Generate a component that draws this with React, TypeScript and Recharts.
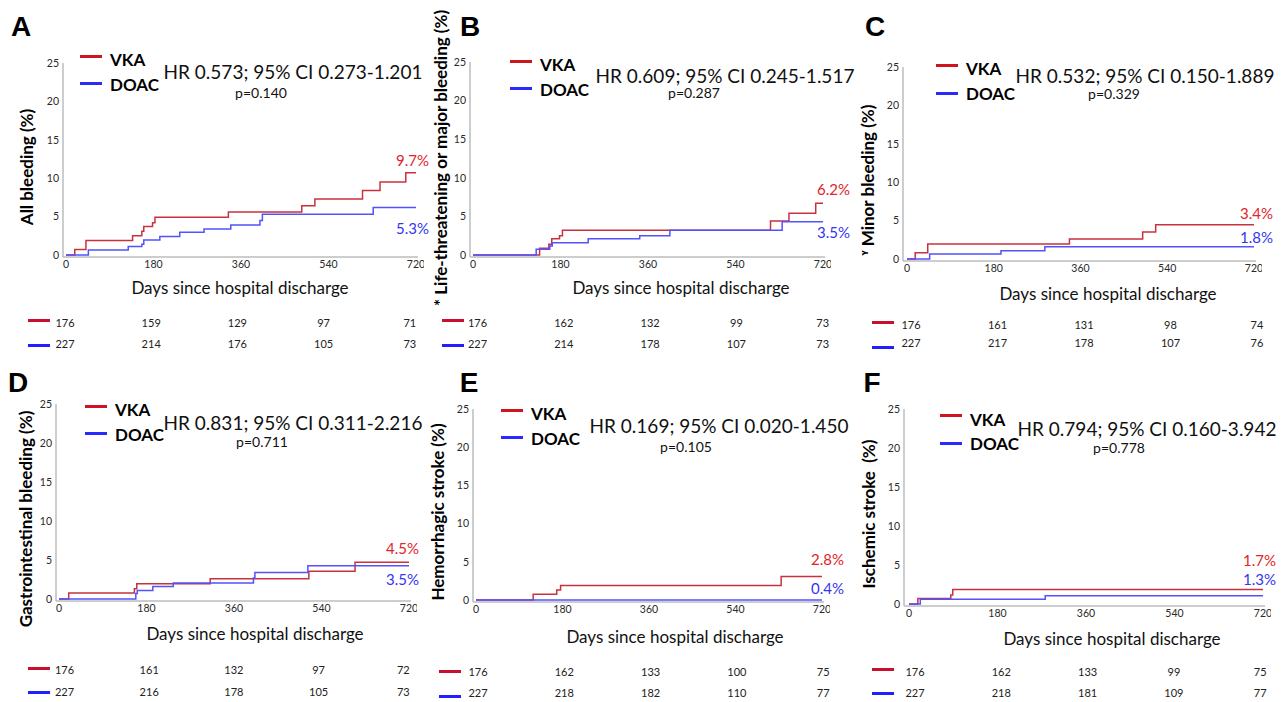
import React from "react";
import { LineChart, Line, XAxis, YAxis } from "recharts";

const DAY_TICKS = [0, 180, 360, 540, 720];
const PCT_TICKS = [0, 5, 10, 15, 20, 25];

// cumulative incidence, [day, %]
const A_VKA = [[0, 0], [18, 0.7], [41, 1.9], [137, 2.5], [156, 3.1], [160, 3.7], [178, 4.2], [183, 4.9], [334, 5.6], [485, 6.4], [512, 7.3], [610, 8.4], [646, 9.5], [699, 10.7], [720, 10.7]];
const A_DOAC = [[0, 0], [46, 0.65], [128, 1.1], [156, 1.4], [160, 1.95], [193, 2.4], [234, 2.95], [284, 3.4], [339, 3.9], [399, 4.5], [404, 5.3], [632, 6.2], [720, 6.2]];
const B_VKA = [[0, 0], [137, 0.86], [156, 1.4], [162, 2.1], [178, 2.5], [184, 3.2], [612, 4.4], [650, 5.4], [705, 6.7], [720, 6.7]];
const B_DOAC = [[0, 0], [130, 0.73], [158, 1.16], [163, 1.6], [237, 2.1], [343, 2.5], [405, 3.2], [636, 4.3], [720, 4.3]];
const C_VKA = [[0, 0], [17, 0.8], [43, 1.95], [337, 2.6], [489, 3.5], [516, 4.45], [720, 4.45]];
const C_DOAC = [[0, 0], [47, 0.65], [195, 1.08], [286, 1.6], [720, 1.6]];
const D_VKA = [[0, 0], [20, 0.77], [155, 1.33], [160, 1.97], [311, 2.6], [514, 3.56], [609, 4.7], [720, 4.7]];
const D_DOAC = [[0, 0], [158, 0.69], [161, 1.1], [193, 1.6], [235, 2.05], [400, 2.7], [403, 3.4], [512, 4.25], [720, 4.25]];
const E_VKA = [[0, 0], [119, 0.74], [168, 1.3], [176, 1.9], [635, 3.06], [720, 3.06]];
const E_DOAC = [[0, 0], [720, 0]];
const F_VKA = [[0, 0], [18, 0.72], [85, 1.15], [89, 1.87], [720, 1.87]];
const F_DOAC = [[0, 0], [23, 0.6], [277, 1.06], [720, 1.06]];

// numbers at risk
const A_RISK_VKA = [176, 159, 129, 97, 71];
const A_RISK_DOAC = [227, 214, 176, 105, 73];
const B_RISK_VKA = [176, 162, 132, 99, 73];
const B_RISK_DOAC = [227, 214, 178, 107, 73];
const C_RISK_VKA = [176, 161, 131, 98, 74];
const C_RISK_DOAC = [227, 217, 178, 107, 76];
const D_RISK_VKA = [176, 161, 132, 97, 72];
const D_RISK_DOAC = [227, 216, 178, 105, 73];
const E_RISK_VKA = [176, 162, 133, 100, 75];
const E_RISK_DOAC = [227, 218, 182, 110, 77];
const F_RISK_VKA = [176, 162, 133, 99, 75];
const F_RISK_DOAC = [227, 218, 181, 109, 77];

const RED = "#c8323f";
const BLUE = "#5252ff";
const RED_TXT = "#e0242a";
const BLUE_TXT = "#3535f0";
const FONT = "Lato, 'Open Sans', sans-serif";

const panels = [
  {
    letter: "A", yLabel: "All bleeding (%)", hr: "HR 0.573; 95% CI 0.273-1.201", p: "p=0.140",
    vka: A_VKA, doac: A_DOAC, riskVka: A_RISK_VKA, riskDoac: A_RISK_DOAC, endVka: "9.7%", endDoac: "5.3%",
    g: { axisX: 63, day0: 66, x720: 416, yTop: 63, y0: 255, letter: [21, 27], leg: [80, 56, 83], legTxt: [59, 84], hr: [293, 71], p: [261, 93], yl: [26, 167], xl: [240, 287], end: [396, 160, 228], riskLine: [28, 320, 345], riskRow: [322, 343], riskX: [65, 86.2] },
  },
  {
    letter: "B", yLabel: "* Life-threatening or major bleeding (%)", hr: "HR 0.609; 95% CI 0.245-1.517", p: "p=0.287",
    vka: B_VKA, doac: B_DOAC, riskVka: B_RISK_VKA, riskDoac: B_RISK_DOAC, endVka: "6.2%", endDoac: "3.5%",
    g: { axisX: 470, day0: 473, x720: 823, yTop: 62, y0: 255, letter: [470, 27], leg: [510, 61, 88], legTxt: [64, 89], hr: [725, 75], p: [694, 93], yl: [440, 158], xl: [681, 287], end: [817, 189, 232], riskLine: [442, 320, 345], riskRow: [322, 343], riskX: [477.5, 86.3] },
  },
  {
    letter: "C", yLabel: "ᵞ Minor bleeding (%)", hr: "HR 0.532; 95% CI 0.150-1.889", p: "p=0.329",
    vka: C_VKA, doac: C_DOAC, riskVka: C_RISK_VKA, riskDoac: C_RISK_DOAC, endVka: "3.4%", endDoac: "1.8%",
    g: { axisX: 903, day0: 907, x720: 1254, yTop: 67, y0: 259, letter: [875, 27], leg: [936, 65, 93], legTxt: [68, 93], hr: [1145, 75], p: [1114, 94], yl: [867, 180], xl: [1108, 293], end: [1240, 213, 237], riskLine: [872, 322, 347], riskRow: [324, 342], riskX: [911, 86.5] },
  },
  {
    letter: "D", yLabel: "Gastrointestinal bleeding (%)", hr: "HR 0.831; 95% CI 0.311-2.216", p: "p=0.711",
    vka: D_VKA, doac: D_DOAC, riskVka: D_RISK_VKA, riskDoac: D_RISK_DOAC, endVka: "4.5%", endDoac: "3.5%",
    g: { axisX: 56, day0: 59, x720: 409, yTop: 404, y0: 599, letter: [18, 383], leg: [85, 406, 433], legTxt: [409, 434], hr: [293, 422], p: [262, 442], yl: [25, 519], xl: [255, 633], end: [386, 548, 579], riskLine: [28, 668, 692], riskRow: [669, 691], riskX: [64.5, 84.7] },
  },
  {
    letter: "E", yLabel: "Hemorrhagic stroke (%)", hr: "HR 0.169; 95% CI 0.020-1.450", p: "p=0.105",
    vka: E_VKA, doac: E_DOAC, riskVka: E_RISK_VKA, riskDoac: E_RISK_DOAC, endVka: "2.8%", endDoac: "0.4%",
    g: { axisX: 473, day0: 476, x720: 822, yTop: 409, y0: 600, letter: [469, 383], leg: [501, 410, 437], legTxt: [413, 438], hr: [719, 425], p: [686, 447], yl: [437, 512], xl: [675, 636], end: [811, 559, 588], riskLine: [439, 671, 696], riskRow: [671, 692], riskX: [478, 86.3] },
  },
  {
    letter: "F", yLabel: "Ischemic stroke  (%)", hr: "HR 0.794; 95% CI 0.160-3.942", p: "p=0.778",
    vka: F_VKA, doac: F_DOAC, riskVka: F_RISK_VKA, riskDoac: F_RISK_DOAC, endVka: "1.7%", endDoac: "1.3%",
    g: { axisX: 904, day0: 909, x720: 1263, yTop: 409, y0: 604, letter: [872, 383], leg: [940, 415, 443], legTxt: [419, 443], hr: [1147, 428], p: [1119, 448], yl: [868, 514], xl: [1112, 638], end: [1243, 560, 579], riskLine: [872, 669, 693], riskRow: [671, 692], riskX: [915, 86.3] },
  },
];

const toRows = (pairs: number[][]) => pairs.map(([day, pct]) => ({ day, pct }));

const centered = (x: number, y: number, extra: React.CSSProperties = {}): React.CSSProperties => ({
  position: "absolute",
  left: x,
  top: y,
  transform: "translate(-50%, -50%)",
  whiteSpace: "pre",
  lineHeight: 1,
  ...extra,
});

const leftMid = (x: number, y: number, extra: React.CSSProperties = {}): React.CSSProperties => ({
  position: "absolute",
  left: x,
  top: y,
  transform: "translateY(-50%)",
  whiteSpace: "pre",
  lineHeight: 1,
  ...extra,
});

const bar = (x: number, y: number, w: number, color: string): React.CSSProperties => ({
  position: "absolute",
  left: x,
  top: y - 1.5,
  width: w,
  height: 3,
  background: color,
});

const YW = 30;
const MT = 8;
const MR = 6;
const XH = 22;

function Panel({ cfg }: { cfg: (typeof panels)[number] }) {
  const g = cfg.g;
  const width = YW + (g.x720 + 2 - g.axisX) + MR;
  const height = MT + (g.y0 + 2 - g.yTop) + XH;
  const tick = { fontSize: 10.5, fill: "#2a2a2a", fontFamily: FONT };
  return (
    <>
      <div style={centered(g.letter[0], g.letter[1], { fontFamily: "'Liberation Sans', Arial, sans-serif", fontWeight: 700, fontSize: 28 })}>
        {cfg.letter}
      </div>
      <div style={{ position: "absolute", left: g.axisX - YW, top: g.yTop - MT }}>
        <LineChart width={width} height={height} margin={{ top: MT, right: MR, bottom: 0, left: 0 }}>
          <XAxis
            type="number"
            dataKey="day"
            domain={[0, 720]}
            ticks={DAY_TICKS}
            padding={{ left: g.day0 - g.axisX, right: 2 }}
            height={XH}
            tickLine={false}
            tickSize={0}
            tickMargin={4}
            tick={tick}
            axisLine={{ stroke: "#bdbdbd", strokeWidth: 1.5 }}
            allowDataOverflow
          />
          <YAxis
            type="number"
            domain={[0, 25]}
            ticks={PCT_TICKS}
            padding={{ top: 0, bottom: 2 }}
            width={YW}
            tickLine={false}
            tickSize={0}
            tickMargin={4}
            tick={tick}
            axisLine={{ stroke: "#bdbdbd", strokeWidth: 1.5 }}
          />
          <Line data={toRows(cfg.vka)} dataKey="pct" type="stepAfter" stroke={RED} strokeWidth={1.5} dot={false} isAnimationActive={false} />
          <Line data={toRows(cfg.doac)} dataKey="pct" type="stepAfter" stroke={BLUE} strokeWidth={1.5} dot={false} isAnimationActive={false} />
        </LineChart>
      </div>
      <div style={bar(g.leg[0], g.leg[1], 22, "#d0141e")} />
      <div style={bar(g.leg[0], g.leg[2], 22, "#2a2aff")} />
      <div style={leftMid(g.leg[0] + 30, g.legTxt[0], { fontWeight: 700, fontSize: 17 })}>VKA</div>
      <div style={leftMid(g.leg[0] + 30, g.legTxt[1], { fontWeight: 700, fontSize: 17 })}>DOAC</div>
      <div style={centered(g.hr[0], g.hr[1], { fontSize: 19, color: "#111" })}>{cfg.hr}</div>
      <div style={centered(g.p[0], g.p[1], { fontSize: 14, color: "#111" })}>{cfg.p}</div>
      <div style={centered(g.yl[0], g.yl[1], { fontWeight: 700, fontSize: 17, transform: "translate(-50%, -50%) rotate(-90deg)" })}>
        {cfg.yLabel}
      </div>
      <div style={centered(g.xl[0], g.xl[1], { fontSize: 17, color: "#111" })}>Days since hospital discharge</div>
      <div style={leftMid(g.end[0], g.end[1], { fontSize: 15, color: RED_TXT })}>{cfg.endVka}</div>
      <div style={leftMid(g.end[0], g.end[2], { fontSize: 15, color: BLUE_TXT })}>{cfg.endDoac}</div>
      <div style={bar(g.riskLine[0], g.riskLine[1], 22, "#c8102e")} />
      <div style={bar(g.riskLine[0], g.riskLine[2], 22, "#2020ff")} />
      {cfg.riskVka.map((n, i) => (
        <div key={"v" + i} style={centered(g.riskX[0] + i * g.riskX[1], g.riskRow[0], { fontSize: 11, color: "#222" })}>{n}</div>
      ))}
      {cfg.riskDoac.map((n, i) => (
        <div key={"d" + i} style={centered(g.riskX[0] + i * g.riskX[1], g.riskRow[1], { fontSize: 11, color: "#222" })}>{n}</div>
      ))}
    </>
  );
}

export default function App() {
  return (
    <div style={{ position: "absolute", left: 0, top: 0, width: 1287, height: 702, background: "#fff", fontFamily: FONT, color: "#000", overflow: "hidden" }}>
      {panels.map((p) => (
        <Panel key={p.letter} cfg={p} />
      ))}
    </div>
  );
}
